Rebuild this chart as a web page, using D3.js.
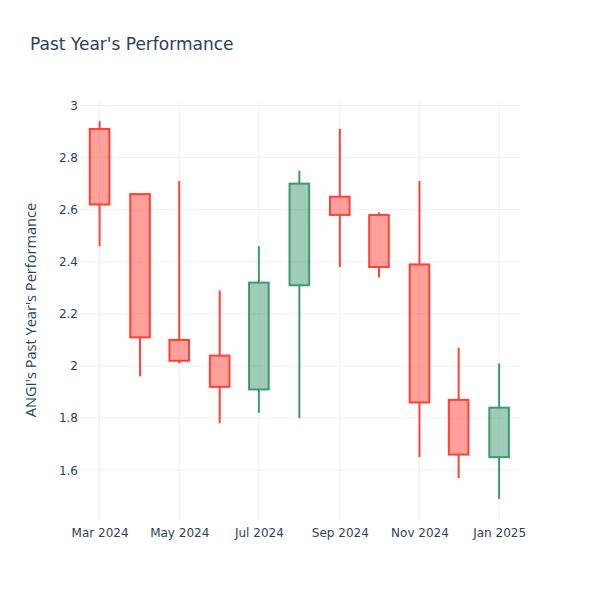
<!DOCTYPE html>
<html>
<head>
<meta charset="utf-8">
<script src="https://cdn.jsdelivr.net/npm/d3@7"></script>
<style>
  html, body { margin: 0; padding: 0; background: #fff; }
  svg { display: block; font-family: "DejaVu Sans", verdana, arial, sans-serif; }
</style>
</head>
<body>
<div id="chart"></div>
<script>
const dates  = ["2024-03-01","2024-04-01","2024-05-01","2024-06-01","2024-07-01","2024-08-01","2024-09-01","2024-10-01","2024-11-01","2024-12-01","2025-01-01"];
const opens  = [2.91, 2.66, 2.10, 2.04, 1.91, 2.31, 2.65, 2.58, 2.39, 1.87, 1.65];
const highs  = [2.94, 2.66, 2.71, 2.29, 2.46, 2.75, 2.91, 2.59, 2.71, 2.07, 2.01];
const lows   = [2.46, 1.96, 2.01, 1.78, 1.82, 1.80, 2.38, 2.34, 1.65, 1.57, 1.49];
const closes = [2.62, 2.11, 2.02, 1.92, 2.32, 2.70, 2.58, 2.38, 1.86, 1.66, 1.84];
const yTicks = [1.6, 1.8, 2, 2.2, 2.4, 2.6, 2.8, 3];
const xTicks = ["2024-03-01","2024-05-01","2024-07-01","2024-09-01","2024-11-01","2025-01-01"];
const titleText = "Past Year's Performance";
const yTitle = "ANGI's Past Year's Performance";

const W = 600, H = 600;
const M = {l: 80, r: 80, t: 100, b: 80};
const parse = d3.utcParse("%Y-%m-%d");
const data = dates.map((d, i) => ({date: parse(d), o: opens[i], h: highs[i], l: lows[i], c: closes[i]}));

const DAY = 864e5;
const halfSpan = 15 * DAY;
const x = d3.scaleUtc()
  .domain([new Date(data[0].date - halfSpan), new Date(+data[data.length-1].date + halfSpan + DAY)])
  .range([M.l, W - M.r]);

const lo = d3.min(lows), hi = d3.max(highs);
const pad = (hi - lo) * 0.056;
const y = d3.scaleLinear().domain([lo - pad, hi + pad]).range([H - M.b, M.t]);

const svg = d3.select("#chart").append("svg").attr("width", W).attr("height", H);

const gridColor = "#EBF0F8";
const textColor = "#2a3f5f";
const tickFont = "\"DejaVu Sans\", verdana, arial, sans-serif";

// grid
svg.append("g").selectAll("line").data(yTicks).join("line")
  .attr("x1", M.l).attr("x2", W - M.r)
  .attr("y1", d => y(d)).attr("y2", d => y(d))
  .attr("stroke", gridColor).attr("stroke-width", 1);
svg.append("g").selectAll("line").data(xTicks).join("line")
  .attr("x1", d => x(parse(d))).attr("x2", d => x(parse(d)))
  .attr("y1", M.t).attr("y2", H - M.b)
  .attr("stroke", gridColor).attr("stroke-width", 1);

// axes labels
const yAxis = d3.axisLeft(y).tickValues(yTicks).tickSize(0).tickPadding(2).tickFormat(d3.format("~g"));
const gy = svg.append("g").attr("transform", `translate(${M.l},0)`).call(yAxis);
gy.select(".domain").remove();
gy.attr("font-family", null).attr("font-size", null);
gy.selectAll("text").attr("fill", textColor).style("font-family", tickFont).style("font-size", "12px").attr("x", -2);

const xAxis = d3.axisBottom(x).tickValues(xTicks.map(parse)).tickSize(0).tickPadding(8).tickFormat(d3.utcFormat("%b %Y"));
const gx = svg.append("g").attr("transform", `translate(0,${H - M.b})`).call(xAxis);
gx.select(".domain").remove();
gx.attr("font-family", null).attr("font-size", null);
gx.selectAll("text").attr("fill", textColor).style("font-family", tickFont).style("font-size", "12px");

// candles
const inc = {line: "#3D9970", fill: "rgba(61,153,112,0.5)"};
const dec = {line: "#FF4136", fill: "rgba(255,65,54,0.5)"};
const bw = x(new Date(+data[0].date + 7.5*DAY)) - x(new Date(+data[0].date - 7.5*DAY));

const g = svg.append("g");
data.forEach(d => {
  const col = d.c >= d.o ? inc : dec;
  const cx = x(d.date);
  const top = Math.max(d.o, d.c), bot = Math.min(d.o, d.c);
  g.append("line").attr("x1", cx).attr("x2", cx).attr("y1", y(d.h)).attr("y2", y(top))
    .attr("stroke", col.line).attr("stroke-width", 2);
  g.append("line").attr("x1", cx).attr("x2", cx).attr("y1", y(bot)).attr("y2", y(d.l))
    .attr("stroke", col.line).attr("stroke-width", 2);
  g.append("rect").attr("x", cx - bw/2).attr("width", bw)
    .attr("y", y(top)).attr("height", Math.max(0.5, y(bot) - y(top)))
    .attr("fill", col.fill).attr("stroke", col.line).attr("stroke-width", 2);
});

// title
svg.append("text").attr("x", 30).attr("y", 50).attr("fill", textColor)
  .style("font-size", "17px").text(titleText);

// y title
svg.append("text")
  .attr("transform", `translate(36,${(M.t + H - M.b)/2}) rotate(-90)`)
  .attr("text-anchor", "middle").attr("fill", textColor)
  .style("font-family", "\"Open Sans\", sans-serif")
  .style("font-size", "14.6px").text(yTitle);
</script>
</body>
</html>
